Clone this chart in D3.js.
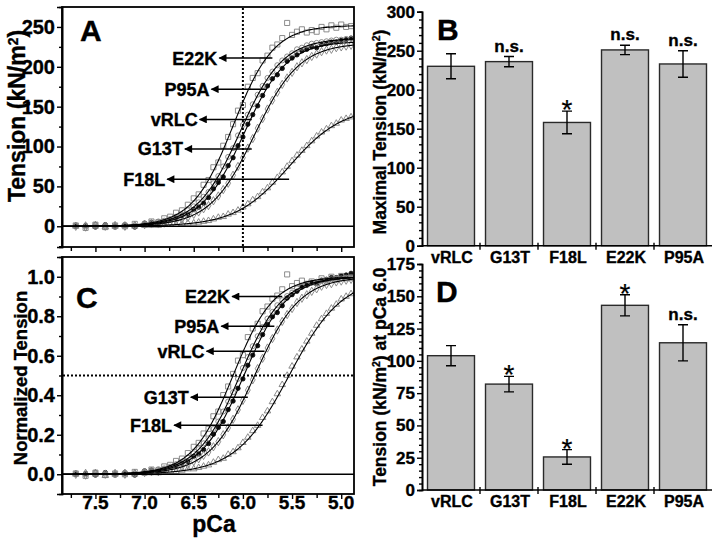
<!DOCTYPE html>
<html>
<head>
<meta charset="utf-8">
<script src="https://cdn.jsdelivr.net/npm/d3@7"></script>
<style>
body { margin: 0; background: #fff; }
svg { font-family: "Liberation Sans", Arial, sans-serif; font-weight: bold; }
svg text { stroke: #000; stroke-width: 0.35px; font-weight: bold; }
</style>
</head>
<body>
<svg id="fig" width="720" height="540"></svg>
<script>
// Strains, same order in every panel
const mutants = ['vRLC', 'G13T', 'F18L', 'E22K', 'P95A'];

// Panel B: maximal tension (kN/m2)
const maxTension = [230, 236, 158, 251, 233];
const maxTensionErr = [16, 6.5, 14.5, 6, 17];
const maxTensionSig = ['', 'n.s.', '*', 'n.s.', 'n.s.'];

// Panel D: tension at pCa 6.0 (kN/m2)
const tension60 = [104, 82, 25.6, 143, 114];
const tension60Err = [7.8, 6, 5.7, 8.2, 14];
const tension60Sig = ['', '*', '*', '*', 'n.s.'];

// Hill fit parameters (per strain)
const fitTmax = [232, 230, 150, 252, 236];
const fitPca50 = [5.99, 5.88, 5.53, 6.10, 6.03];
const fitHill = [2.0, 1.9, 1.6, 2.1, 2.0];

// Measured points, panel A (tension vs pCa)
const pCaSteps = [7.70, 7.60, 7.50, 7.40, 7.30, 7.20, 7.10, 7.00, 6.93, 6.86, 6.80, 6.74, 6.68, 6.62, 6.56,
    6.50, 6.45, 6.40, 6.35, 6.30, 6.25, 6.20, 6.15, 6.10, 6.05, 6.00, 5.95, 5.90, 5.85, 5.80, 5.75, 5.70,
    5.65, 5.60, 5.55, 5.50, 5.45, 5.40, 5.35, 5.30, 5.25, 5.20, 5.15, 5.10, 5.05, 5.00, 4.95, 4.90];
const ptsVRLC = [0, 1, -1, 2, 0, 1, -1, 4, 5, 3, 6, 8, 10, 13, 15,
    21, 24, 29, 36, 47, 55, 62, 76, 86, 101, 112, 128, 140, 151, 164, 176, 185,
    190, 198, 207, 211, 215, 220, 222, 225, 224, 228, 229, 231, 231, 233, 234, 236];
const ptsG13T = [0, -1, 1, 0, 1, 0, 1, 2, 3, 3, 4, 5, 7, 9, 11,
    15, 18, 22, 26, 32, 38, 46, 54, 64, 75, 86, 98, 110, 123, 135, 147, 158,
    168, 178, 186, 193, 200, 205, 209, 213, 216, 219, 221, 222, 224, 225, 226, 227];
const ptsF18L = [0, 1, 0, -1, 0, 1, 0, 1, 1, 1, 2, 2, 2, 3, 4,
    4, 5, 6, 7, 9, 11, 12, 15, 17, 20, 24, 28, 33, 37, 43, 48, 55,
    61, 68, 75, 82, 89, 95, 101, 107, 113, 118, 122, 126, 129, 133, 135, 137];
const ptsE22K = [1, -2, 2, -1, 1, 0, 3, 2, 6, 5, 10, 12, 17, 20, 27,
    35, 40, 52, 58, 74, 80, 101, 112, 128, 145, 152, 175, 186, 192, 208, 214, 224,
    228, 236, 255, 240, 244, 247, 243, 246, 244, 250, 247, 252, 249, 253, 250, 251];
const ptsP95A = [1, 0, 2, 1, -1, 2, 1, 3, 4, 6, 7, 9, 12, 15, 20,
    25, 30, 37, 43, 54, 63, 75, 87, 98, 114, 127, 140, 153, 165, 176, 186, 194,
    202, 208, 213, 217, 222, 224, 227, 229, 230, 231, 232, 233, 234, 234, 235, 235];
const allPts = [ptsVRLC, ptsG13T, ptsF18L, ptsE22K, ptsP95A];

// Curve labels: [name, level, arrow tail pCa, arrow head pCa]
const arrowsA = [['E22K', 211, 5.70, 6.24], ['P95A', 172, 5.76, 6.32], ['vRLC', 134, 5.91, 6.44],
    ['G13T', 97, 5.91, 6.59], ['F18L', 59, 5.53, 6.77]];
const arrowsC = [['E22K', 0.90, 5.60, 6.11], ['P95A', 0.75, 5.68, 6.22], ['vRLC', 0.623, 5.78, 6.37],
    ['G13T', 0.39, 5.95, 6.53], ['F18L', 0.248, 5.80, 6.70]];

const svg = d3.select('#fig');

svg.append('defs').append('marker')
    .attr('id', 'arr')
    .attr('viewBox', '0 0 10 10')
    .attr('refX', 9).attr('refY', 5)
    .attr('markerUnits', 'userSpaceOnUse')
    .attr('markerWidth', 9).attr('markerHeight', 8)
    .attr('orient', 'auto')
    .append('path').attr('d', 'M0,0 L10,5 L0,10 z').attr('fill', '#000');

// Scales
const xP = d3.scaleLinear().domain([7.84, 4.87]).range([62, 354]);
const yA = d3.scaleLinear().domain([-26, 275]).range([247, 7]);
const yC = d3.scaleLinear().domain([-0.1, 1.1]).range([494, 257]);
const xBar = d3.scaleBand().domain(mutants).range([422, 712]).paddingInner(0.19).paddingOuter(0.095);
const yB = d3.scaleLinear().domain([0, 300]).range([245.7, 11.7]);
const yD = d3.scaleLinear().domain([0, 175]).range([490, 264]);

const hill = (i, p) => 1 / (1 + Math.pow(10, fitHill[i] * (p - fitPca50[i])));
const symbols = [d3.symbolCircle, d3.symbolDiamond, d3.symbolTriangle, d3.symbolSquare, d3.symbolCircle];
const symSize = [15, 20, 18, 26, 20];

function styleAxis(g, size) {
    g.selectAll('path.domain').attr('stroke', '#000').attr('stroke-width', 1.6);
    g.selectAll('.tick line').attr('stroke', '#000').attr('stroke-width', 1.4);
    g.selectAll('.tick text').attr('fill', '#000').attr('font-size', size)
        .attr('font-family', '"Liberation Sans", Arial, sans-serif');
}

function leftAxis(x, y, majors, minors, fmt, size) {
    svg.append('g').attr('transform', `translate(${x},0)`)
        .call(d3.axisLeft(y).tickValues(minors).tickSize(3).tickFormat(''))
        .call(g => styleAxis(g, size));
    svg.append('g').attr('transform', `translate(${x},0)`)
        .call(d3.axisLeft(y).tickValues(majors).tickSize(5).tickPadding(2).tickFormat(fmt))
        .call(g => styleAxis(g, size));
}

function pcaPanel(yScale, norm) {
    let y0 = yScale.range()[0], y1 = yScale.range()[1];
    let g = svg.append('g');
    // bottom ticks
    svg.append('g').attr('transform', `translate(0,${y0})`)
        .call(d3.axisBottom(xP).tickValues([7.75, 7.25, 6.75, 6.25, 5.75, 5.25]).tickSize(4).tickFormat(''))
        .call(a => styleAxis(a, 18)).select('.domain').remove();
    svg.append('g').attr('transform', `translate(0,${y0})`)
        .call(d3.axisBottom(xP).tickValues([7.5, 7.0, 6.5, 6.0, 5.5, 5.0]).tickSize(5).tickFormat(''))
        .call(a => styleAxis(a, 18)).select('.domain').remove();

    // points
    allPts.forEach((pts, i) => {
        g.append('g').selectAll('path')
            .data(pts)
            .enter().append('path')
            .attr('d', d3.symbol().type(symbols[i]).size(symSize[i]))
            .attr('transform', (d, j) => `translate(${xP(pCaSteps[j])},${yScale(norm ? d / fitTmax[i] : d)})`)
            .attr('fill', i === 0 ? '#111' : 'none')
            .attr('stroke', i === 0 ? '#111' : '#808080')
            .attr('stroke-width', 0.9);
    });

    // fitted curves
    let grid = d3.range(7.84, 4.86, -0.01);
    fitTmax.forEach((t, i) => {
        g.append('path')
            .datum(grid)
            .attr('fill', 'none').attr('stroke', '#000').attr('stroke-width', 1.1)
            .attr('d', d3.line().x(p => xP(p)).y(p => yScale(hill(i, p) * (norm ? 1 : t))));
    });

    // zero line
    g.append('line')
        .attr('x1', xP.range()[0]).attr('x2', xP.range()[1])
        .attr('y1', yScale(0)).attr('y2', yScale(0))
        .attr('stroke', '#000').attr('stroke-width', 1.5);

    // frame
    svg.append('rect')
        .attr('x', xP.range()[0]).attr('y', y1)
        .attr('width', xP.range()[1] - xP.range()[0]).attr('height', y0 - y1)
        .attr('fill', 'none').attr('stroke', '#000').attr('stroke-width', 1.8);
}

function curveLabels(list, yScale) {
    list.forEach(a => {
        let y = yScale(a[1]);
        svg.append('line')
            .attr('x1', xP(a[2])).attr('x2', xP(a[3]))
            .attr('y1', y).attr('y2', y)
            .attr('stroke', '#000').attr('stroke-width', 1.5)
            .attr('marker-end', 'url(#arr)');
        svg.append('text')
            .attr('x', xP(a[3]) - 2).attr('y', y).attr('dy', '0.36em')
            .attr('text-anchor', 'end').attr('font-size', 18)
            .text(a[0]);
    });
}

function barPanel(yScale, vals, errs, sig, majors, minors) {
    let y0 = yScale.range()[0];
    let g = svg.append('g');
    g.selectAll('rect')
        .data(vals)
        .enter().append('rect')
        .attr('x', (d, i) => xBar(mutants[i]))
        .attr('y', d => yScale(d))
        .attr('width', xBar.bandwidth())
        .attr('height', d => y0 - yScale(d))
        .attr('fill', '#c0c0c0').attr('stroke', '#2a2a2a').attr('stroke-width', 1.4);

    vals.forEach((v, i) => {
        let cx = xBar(mutants[i]) + xBar.bandwidth() / 2,
            top = yScale(v + errs[i]), bot = yScale(v - errs[i]);
        g.append('path')
            .attr('d', `M${cx},${top}V${bot}M${cx - 5},${top}H${cx + 5}M${cx - 5},${bot}H${cx + 5}`)
            .attr('stroke', '#000').attr('stroke-width', 1.4).attr('fill', 'none');
        if (sig[i] === '*') {
            g.append('text').attr('x', cx).attr('y', top + 8)
                .attr('text-anchor', 'middle').attr('font-size', 28)
                .style('font-weight', 'normal').style('stroke-width', '0.2px')
                .text('*');
        } else if (sig[i]) {
            g.append('text').attr('x', cx).attr('y', top - 5)
                .attr('text-anchor', 'middle').attr('font-size', 17)
                .text(sig[i]);
        }
    });

    leftAxis(422, yScale, majors, minors, d3.format('d'), 17);

    // category axis
    let step = xBar.step();
    let bounds = d3.range(1, mutants.length).map(k => 422 + k * step);
    let ax = svg.append('g');
    ax.append('line').attr('x1', 422).attr('x2', 712).attr('y1', y0).attr('y2', y0)
        .attr('stroke', '#000').attr('stroke-width', 1.6);
    ax.selectAll('.sep').data(bounds).enter().append('line')
        .attr('x1', d => d).attr('x2', d => d).attr('y1', y0 - 3).attr('y2', y0 + 4)
        .attr('stroke', '#000').attr('stroke-width', 1.4);
    ax.selectAll('text').data(mutants).enter().append('text')
        .attr('x', d => xBar(d) + xBar.bandwidth() / 2 + 1)
        .attr('y', y0 + 17)
        .attr('text-anchor', 'middle').attr('font-size', 16)
        .text(d => d);
}

// Panel A
pcaPanel(yA, false);
svg.append('line')
    .attr('x1', xP(6.0)).attr('x2', xP(6.0)).attr('y1', 8).attr('y2', 246)
    .attr('stroke', '#000').attr('stroke-width', 2).attr('stroke-dasharray', '2,2');
leftAxis(62, yA, [0, 50, 100, 150, 200, 250], [-25, 25, 75, 125, 175, 225], d3.format('d'), 20);
curveLabels(arrowsA, yA);

// Panel C
pcaPanel(yC, true);
svg.append('line')
    .attr('x1', 63).attr('x2', 353).attr('y1', yC(0.5)).attr('y2', yC(0.5))
    .attr('stroke', '#000').attr('stroke-width', 2).attr('stroke-dasharray', '2,2');
leftAxis(62, yC, [0, 0.2, 0.4, 0.6, 0.8, 1.0], [0.1, 0.3, 0.5, 0.7, 0.9], d3.format('.1f'), 20);
curveLabels(arrowsC, yC);
svg.append('g').selectAll('text')
    .data([7.5, 7.0, 6.5, 6.0, 5.5, 5.0])
    .enter().append('text')
    .attr('x', d => xP(d)).attr('y', 509)
    .attr('text-anchor', 'middle').attr('font-size', 19)
    .text(d => d.toFixed(1));
svg.append('text').attr('x', 214).attr('y', 532).attr('text-anchor', 'middle')
    .attr('font-size', 23).text('pCa');

// Panels B and D
barPanel(yB, maxTension, maxTensionErr, maxTensionSig, d3.range(0, 301, 50), d3.range(10, 300, 10).filter(v => v % 50));
barPanel(yD, tension60, tension60Err, tension60Sig, d3.range(0, 176, 25), d3.range(5, 175, 5).filter(v => v % 25));

// Axis titles
function yTitle(x, y, size, parts) {
    let t = svg.append('text')
        .attr('transform', `translate(${x},${y}) rotate(-90)`)
        .attr('text-anchor', 'middle').attr('font-size', size);
    parts.forEach(p => {
        let s = t.append('tspan').text(p[0]);
        if (p[1]) s.attr('baseline-shift', 'super').attr('font-size', size * 0.6);
    });
}
yTitle(25, 116, 23, [['Tension (kN/m'], ['2', true], [')']]);
yTitle(27, 378, 18.5, [['Normalized Tension']]);
yTitle(386, 132, 17.5, [['Maximal Tension (kN/m'], ['2', true], [')']]);
yTitle(386, 377, 17.5, [['Tension (kN/m'], ['2', true], [') at pCa 6.0']]);

// Panel letters
[['A', 80, 41], ['B', 437, 40], ['C', 76, 308], ['D', 436, 302]].forEach(l => {
    svg.append('text').attr('x', l[1]).attr('y', l[2]).attr('font-size', 30).text(l[0]);
});
</script>
</body>
</html>
